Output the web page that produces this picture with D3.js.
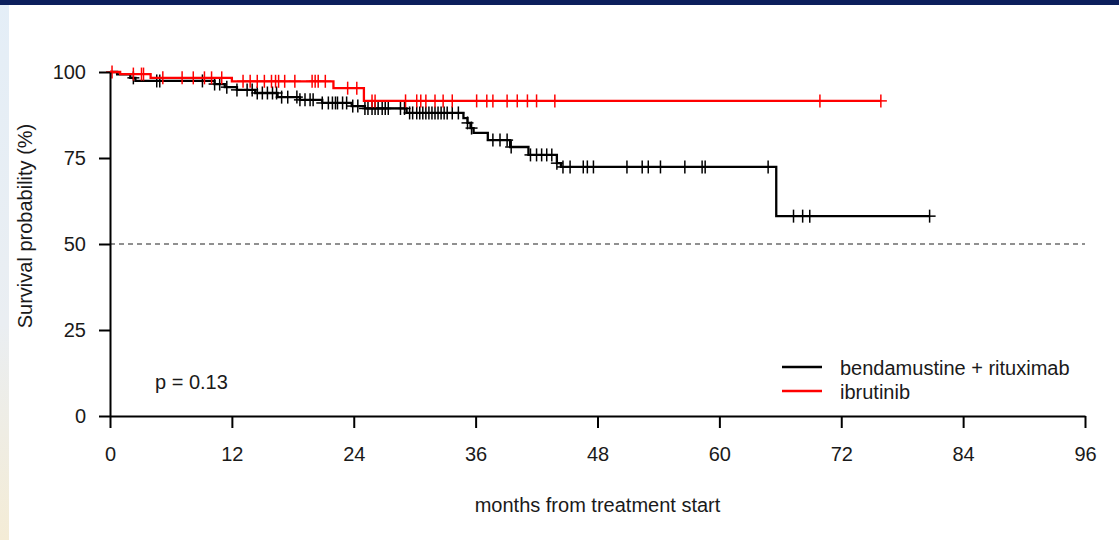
<!DOCTYPE html>
<html>
<head>
<meta charset="utf-8">
<script src="https://cdn.jsdelivr.net/npm/d3@7"></script>
<style>
  html, body { margin: 0; padding: 0; background: #fff; }
  svg { display: block; font-family: Arial, "Liberation Sans", sans-serif; }
</style>
</head>
<body>
<svg id="chart" width="1119" height="540"></svg>
<script>
/* global d3 */

// bendamustine + rituximab: step times (months) and survival (%)
var brTimes = [0, 0.7, 2.0, 2.5, 10.3, 11.3, 12.5, 14.3, 16.5, 18.7, 20.9, 23.8, 25.1, 29.2, 34.8, 35.2, 35.5, 35.8, 37.2, 39.4, 41.2, 44.0, 44.4, 65.6];
var brSurv = [100, 99.3, 98.3, 97.4, 96.5, 95.6, 94.8, 93.9, 92.7, 91.9, 91.0, 90.1, 89.4, 88.1, 86.6, 85.2, 83.7, 82.3, 80.2, 78.2, 75.9, 73.5, 72.4, 58.1];
var brCensor = [2.3, 4.6, 4.9, 9.1, 10.3, 10.8, 11.5, 12.5, 13.5, 14.0, 14.5, 15.0, 15.5, 16.0, 16.4, 16.9, 17.5, 18.4, 18.7, 19.2, 19.7, 20.0,
  20.9, 21.5, 21.9, 22.2, 22.4, 22.9, 23.3, 23.9, 24.4, 25.1, 25.4, 25.8, 26.1, 26.4, 26.8, 27.1, 27.4, 28.6, 29.0, 29.5, 29.8, 30.2, 30.5,
  30.8, 31.1, 31.4, 31.7, 32.0, 32.3, 32.6, 32.9, 33.2, 33.7, 34.3, 35.2, 35.6, 37.7, 38.4, 39.1, 39.5, 41.4, 42.0, 42.5, 43.0, 43.5, 44.0,
  44.6, 45.3, 46.6, 47.0, 47.6, 50.9, 52.4, 53.0, 54.2, 56.6, 58.3, 58.6, 64.8, 67.3, 68.2, 68.9, 80.7];

// ibrutinib
var ibrTimes = [0, 1.0, 4.0, 12.0, 22.0, 25.0];
var ibrSurv = [100, 99.4, 98.3, 97.3, 95.3, 91.6];
var ibrCensor = [0.2, 2.3, 3.1, 3.3, 5.2, 7.1, 8.2, 9.3, 10.0, 11.0, 13.1, 13.8, 14.5, 15.2, 15.9, 16.3, 16.6, 17.2, 18.2, 19.9, 20.2,
  20.5, 21.2, 23.4, 24.3, 25.8, 26.1, 29.1, 30.2, 30.6, 31.1, 32.0, 32.8, 33.7, 36.1, 37.1, 37.7, 39.1, 40.1, 41.1, 42.0, 43.8, 69.9, 75.9];

var xTicks = [0, 12, 24, 36, 48, 60, 72, 84, 96];
var yTicks = [0, 25, 50, 75, 100];
var groupNames = ["bendamustine + rituximab", "ibrutinib"];
var groupColors = ["#000000", "#ff0000"];

var svg = d3.select("#chart");
var textColor = "#1a1a1a";
var fontSize = "20px";

// page decoration: navy top bar and pale strip on the left
var defs = svg.append("defs");
var grad = defs.append("linearGradient").attr("id", "strip").attr("x1", 0).attr("y1", 0).attr("x2", 0).attr("y2", 1);
grad.append("stop").attr("offset", "0%").attr("stop-color", "#e4eef7");
grad.append("stop").attr("offset", "60%").attr("stop-color", "#eaeef2");
grad.append("stop").attr("offset", "100%").attr("stop-color", "#f4ecd6");
svg.append("rect").attr("x", 0).attr("y", 0).attr("width", 9).attr("height", 540).style("fill", "url(#strip)");
svg.append("rect").attr("x", 0).attr("y", 0).attr("width", 1119).attr("height", 5).style("fill", "#0c1f5c");

var x = d3.scaleLinear().domain([0, 96]).range([110, 1085]);
var y = d3.scaleLinear().domain([0, 100]).range([416, 72]);

// reference line at 50%
svg.append("line")
  .attr("x1", x(0)).attr("x2", x(96))
  .attr("y1", y(50)).attr("y2", y(50))
  .style("stroke", "#222")
  .style("stroke-width", 1.2)
  .style("stroke-dasharray", "5,4");

function survAt( times, surv, t ) {
  var i = d3.bisectRight( times, t ) - 1;
  return surv[ Math.max( i, 0 ) ];
}

var line = d3.line()
  .x( d => x( d[ 0 ] ) )
  .y( d => y( d[ 1 ] ) )
  .curve( d3.curveStepAfter );

var curves = [
  { times: brTimes, surv: brSurv, censor: brCensor, color: groupColors[ 0 ] },
  { times: ibrTimes, surv: ibrSurv, censor: ibrCensor, color: groupColors[ 1 ] }
];

curves.forEach( function( c ) {
  var pts = c.times.map( ( t, i ) => [ t, c.surv[ i ] ] );
  var last = d3.max( c.censor );
  pts.push( [ last, survAt( c.times, c.surv, last ) ] );

  svg.append( "path" )
    .datum( pts )
    .attr( "d", line )
    .style( "fill", "none" )
    .style( "stroke", c.color )
    .style( "stroke-width", 2.3 );

  var marks = svg.append( "g" ).selectAll( "g" )
    .data( c.censor )
    .enter()
    .append( "g" )
      .attr( "transform", d => "translate(" + x( d ) + "," + y( survAt( c.times, c.surv, d ) ) + ")" );

  marks.append( "line" )
    .attr( "x1", 0 ).attr( "x2", 0 ).attr( "y1", -6.5 ).attr( "y2", 6.5 )
    .style( "stroke", c.color ).style( "stroke-width", 1.5 );
  marks.append( "line" )
    .attr( "x1", -6 ).attr( "x2", 6 ).attr( "y1", 0 ).attr( "y2", 0 )
    .style( "stroke", c.color ).style( "stroke-width", 1.5 );
} );

// axes
var xAxis = svg.append( "g" )
  .attr( "transform", "translate(0," + y( 0 ) + ")" )
  .call( d3.axisBottom( x ).tickValues( xTicks ).tickSize( 12 ).tickSizeOuter( 0 ).tickPadding( 19 ) );

var yAxis = svg.append( "g" )
  .attr( "transform", "translate(" + x( 0 ) + ",0)" )
  .call( d3.axisLeft( y ).tickValues( yTicks ).tickSize( 11 ).tickSizeOuter( 0 ).tickPadding( 13 ) );

[ xAxis, yAxis ].forEach( function( a ) {
  a.attr( "font-family", null ).attr( "font-size", null );
  a.select( ".domain" ).style( "stroke", "#000" ).style( "stroke-width", 2 );
  a.selectAll( ".tick line" ).style( "stroke", "#000" ).style( "stroke-width", 2 );
  a.selectAll( ".tick text" ).style( "font-size", fontSize ).style( "fill", textColor );
} );

// axis titles
svg.append( "text" )
  .attr( "x", ( x( 0 ) + x( 96 ) ) / 2 )
  .attr( "y", 512 )
  .attr( "text-anchor", "middle" )
  .style( "font-size", fontSize )
  .style( "fill", textColor )
  .text( "months from treatment start" );

svg.append( "text" )
  .attr( "transform", "translate(32,226) rotate(-90)" )
  .attr( "text-anchor", "middle" )
  .style( "font-size", fontSize )
  .style( "fill", textColor )
  .text( "Survival probability (%)" );

svg.append( "text" )
  .attr( "x", 155 )
  .attr( "y", 389 )
  .style( "font-size", fontSize )
  .style( "fill", textColor )
  .text( "p = 0.13" );

// legend
var legend = svg.append( "g" ).selectAll( "g" )
  .data( groupNames )
  .enter()
  .append( "g" )
    .attr( "transform", ( d, i ) => "translate(782," + ( 367 + i * 24 ) + ")" );

legend.append( "line" )
  .attr( "x1", 0 ).attr( "x2", 40 ).attr( "y1", 0 ).attr( "y2", 0 )
  .style( "stroke", ( d, i ) => groupColors[ i ] )
  .style( "stroke-width", 2.3 );

legend.append( "text" )
  .attr( "x", 58 )
  .attr( "y", 8 )
  .style( "font-size", fontSize )
  .style( "fill", textColor )
  .text( d => d );
</script>
</body>
</html>
